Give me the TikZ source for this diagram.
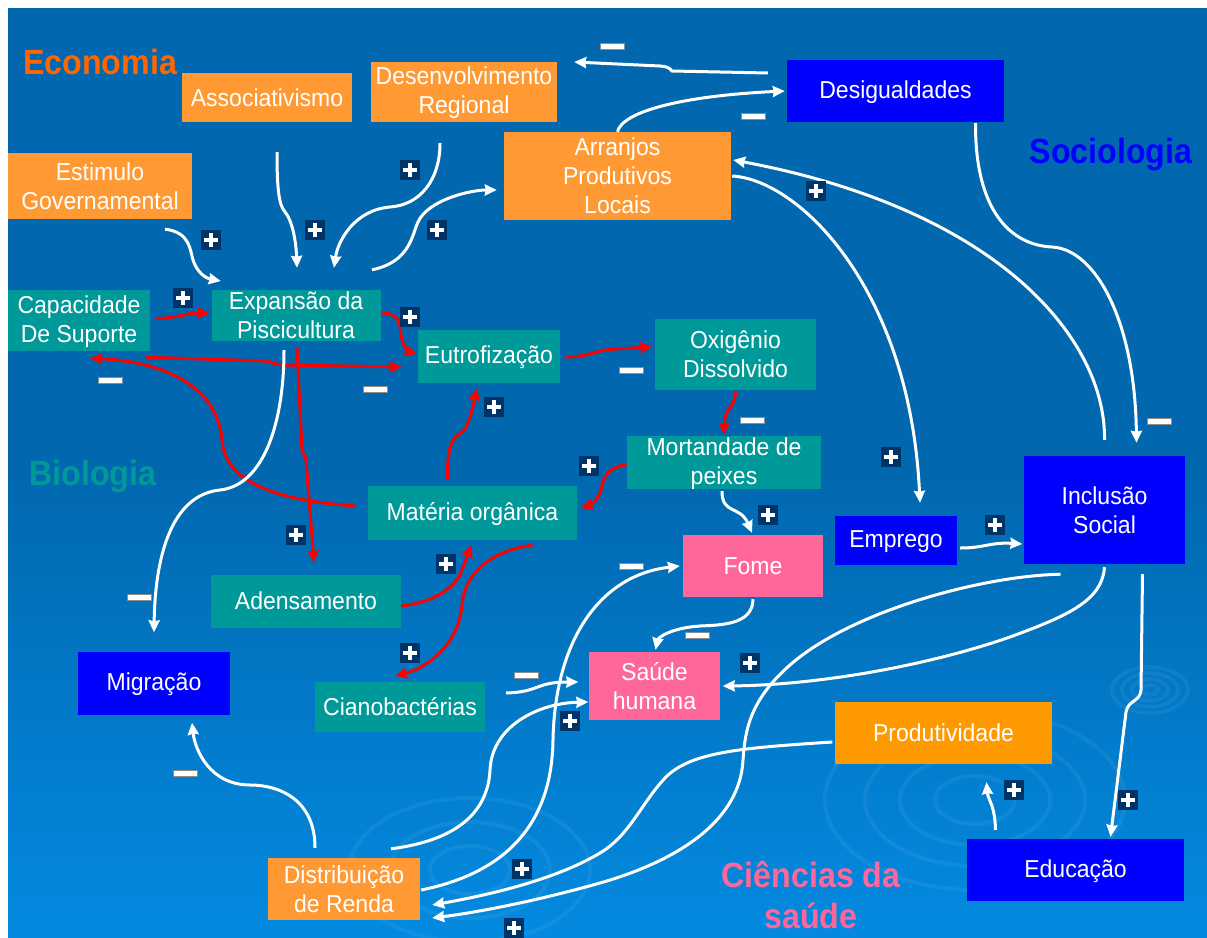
\documentclass[tikz,border=0pt]{standalone}
\usepackage{fontspec}
\setmainfont{Liberation Sans}
\newfontfamily\boxfont{Liberation Sans}[FakeStretch=0.94]
\newfontfamily\titlefont{Liberation Sans}[FakeStretch=0.92]
\usetikzlibrary{arrows.meta,calc}
\definecolor{bgtop}{RGB}{1,103,174}
\definecolor{bgbot}{RGB}{3,138,224}
\definecolor{orng}{RGB}{255,153,51}
\definecolor{orngb}{RGB}{255,153,0}
\definecolor{tealbox}{RGB}{0,153,153}
\definecolor{bluebox}{RGB}{0,0,255}
\definecolor{pinkbox}{RGB}{255,102,153}
\definecolor{signnavy}{RGB}{0,51,102}
\definecolor{econ}{RGB}{255,102,0}
% box text: struts above the first and below the last line keep the
% capitals centred in the box
\newcommand\bx[1]{\rule{0pt}{19.8pt}#1\rule[-2.2pt]{0pt}{2.2pt}}

\begin{document}
\begin{tikzpicture}[x=1pt,y=-1pt,
  box/.style={inner sep=0pt, text=white, align=center,
    font=\boxfont\fontsize{24.5}{29}\selectfont},
  obox/.style={box, fill=orng},
  tbox/.style={box, fill=tealbox},
  bbox/.style={box, fill=bluebox},
  pbox/.style={box, fill=pinkbox},
  area/.style={font=\titlefont\bfseries\fontsize{35}{41}\selectfont, anchor=base, align=center},
  wlink/.style={draw=white, line width=3pt,
    -{Stealth[inset=1pt,length=12pt,width=11pt]}},
  rlink/.style={draw=red, line width=3pt,
    -{Stealth[inset=1pt,length=12pt,width=11pt]}},
  ripple/.style={draw=white, opacity=0.06, line width=4pt},
  plussign/.pic={
    \fill[signnavy] (-10,-10) rectangle (10,10);
    \fill[white] (-7,-1.7) rectangle (7,1.7);
    \fill[white] (-1.7,-7) rectangle (1.7,7);
  },
  minussign/.pic={
    \fill[white, draw=black!45, line width=0.8pt] (-12,-3) rectangle (12,3);
  }
]
\useasboundingbox (0,0) rectangle (1207,937);

% page background
\fill[white] (0,0) rectangle (1207,937);
\fill[bgtop] (8,8) rectangle (1207,460);
\shade[top color=bgtop, bottom color=bgbot] (8,459) rectangle (1207,937);

% water ripples
\foreach \r in {8,18,28,38}
  \draw[ripple] (1150,690) ellipse ({\r} and {0.6*\r});
\foreach \r in {40,75,110,150}
  \draw[ripple] (975,800) ellipse ({\r} and {0.6*\r});
\foreach \r in {40,80,120}
  \draw[ripple] (470,870) ellipse ({\r} and {0.6*\r});

% area titles
\node[area, text=econ] at (100,74) {Economia};
\node[area, text=bluebox] at (1111,163) {Sociologia};
\node[area, text=tealbox] at (93,485) {Biologia};
\node[area, text=pinkbox] at (811,928) {Ciências da\\saúde};

% economy
\node[obox, minimum width=170pt, minimum height=49pt] (assoc) at (267,97.5) {\bx{Associativismo}};
\node[obox, minimum width=186pt, minimum height=60pt] (desreg) at (464,92) {\bx{Desenvolvimento\\Regional}};
\node[obox, minimum width=184pt, minimum height=66pt] (estim) at (100,186) {\bx{Estimulo\\Governamental}};
\node[obox, minimum width=227pt, minimum height=88pt] (arr) at (617.5,176) {\bx{Arranjos\\Produtivos\\Locais}};
\node[obox, minimum width=152pt, minimum height=62pt] (dist) at (344,889) {\bx{Distribuição\\de Renda}};
\node[box, fill=orngb, minimum width=217pt, minimum height=62pt] (prod) at (943.5,733) {\bx{Produtividade}};

% biology
\node[tbox, minimum width=142pt, minimum height=61pt] (cap) at (79,320.5) {\bx{Capacidade\\De Suporte}};
\node[tbox, minimum width=169pt, minimum height=51pt] (exp) at (296,315) {\bx{Expansão da\\Piscicultura}};
\node[tbox, minimum width=142pt, minimum height=53pt] (eut) at (489,356) {\bx{Eutrofização}};
\node[tbox, minimum width=161pt, minimum height=71pt] (oxy) at (735.5,354) {\bx{Oxigênio\\Dissolvido}};
\node[tbox, minimum width=194pt, minimum height=53pt] (mort) at (724,462.5) {\bx{Mortandade de\\peixes}};
\node[tbox, minimum width=209pt, minimum height=54pt] (mat) at (472.5,513) {\bx{Matéria orgânica}};
\node[tbox, minimum width=190pt, minimum height=53pt] (aden) at (306,601) {\bx{Adensamento}};
\node[tbox, minimum width=170pt, minimum height=50pt] (cian) at (400,707) {\bx{Cianobactérias}};

% sociology
\node[bbox, minimum width=217pt, minimum height=62pt] (desig) at (895.5,91) {\bx{Desigualdades}};
\node[bbox, minimum width=161pt, minimum height=108pt] (incl) at (1104.5,510) {\bx{Inclusão\\Social}};
\node[bbox, minimum width=122pt, minimum height=49pt] (emp) at (896,540) {\bx{Emprego}};
\node[bbox, minimum width=152pt, minimum height=63pt] (mig) at (154,683.5) {\bx{Migração}};
\node[bbox, minimum width=217pt, minimum height=62pt] (educ) at (1075.5,870) {\bx{Educação}};

% health
\node[pbox, minimum width=140pt, minimum height=62pt] (fome) at (753,566) {\bx{Fome}};
\node[pbox, minimum width=131pt, minimum height=68pt] (saude) at (654.5,686) {\bx{Saúde\\humana}};

% biological links
\draw[rlink] ($(cap.east)+(5,-2)$) .. controls (180,318) and (185,313) .. ($(exp.west)+(-1.5,-2)$);
\draw[rlink] ($(exp.east)+(1.5,-2)$) .. controls (400,313) and (400,325) .. (401,335)
  .. controls (403,348) and (410,352) .. ($(eut.west)+(-1,-2)$);
\draw[rlink] ($(cap.south)+(67,6)$) -- (265,361) .. controls (272,362) and (275,365) .. (285,365)
  -- ($(eut.west)+(-16,11)$);
\draw[rlink] ($(mat.west)+(-12.5,-7)$) .. controls (270,500) and (225,480) .. (222,440)
  .. controls (218,390) and (170,362) .. ($(cap.south)+(11,7)$);
\draw[rlink] ($(exp.south)+(1,7.5)$) -- (302,450) .. controls (303,455) and (306,455) .. (306,460)
  -- ($(aden.north)+(8,-11.5)$);
\draw[rlink] ($(eut.east)+(6,1)$) .. controls (590,357) and (595,350) .. (615,349)
  -- ($(oxy.west)+(-2.5,-7)$);
\draw[rlink] ($(oxy.south)+(0,1.5)$) .. controls (735,410) and (725,405) .. ($(mort.north)+(0,-0.5)$);
\draw[rlink] ($(mort.west)+(0,2)$) .. controls (605,468) and (603,480) .. (601,490)
  .. controls (598,500) and (590,505) .. ($(mat.east)+(3.5,-5)$);
\draw[rlink] ($(mat.north)+(-25,-7)$) .. controls (447,455) and (450,440) .. (458,435)
  .. controls (467,430) and (470,420) .. ($(eut.south)+(-12,5.5)$);
\draw[rlink] ($(aden.east)+(0,5)$) .. controls (430,603) and (455,590) .. (462,570)
  -- ($(mat.south)+(-1,5)$);
\draw[rlink] ($(mat.south)+(60,5)$) .. controls (495,550) and (465,570) .. (462,605)
  .. controls (458,650) and (420,670) .. ($(cian.north)+(-5,-6)$);

% economic and social links
\draw[wlink] ($(desig.west)+(-19,-18)$) -- (672,71) .. controls (668,67) .. (660,66)
  -- ($(desreg.east)+(17,-30)$);
\draw[wlink] (arr.north) .. controls (622,112) and (680,96) .. ($(desig.west)+(-2,0)$);
\draw[wlink] ($(desig.south)+(80,1)$) .. controls (975,210) and (1010,245) .. (1052,247)
  .. controls (1095,249) and (1135,320) .. ($(incl.north)+(32,-13)$);
\draw[wlink] ($(incl.north)+(0,-16)$) .. controls (1106,340) and (1000,210) .. ($(arr.east)+(2,-16)$);
\draw[wlink] ($(arr.east)+(1,0)$) .. controls (800,180) and (910,290) .. ($(emp.north)+(24,-12.5)$);
\draw[wlink] ($(emp.east)+(3,8)$) .. controls (985,548) and (990,542) .. ($(incl.west)+(-1.5,34)$);
\draw[wlink] ($(incl.south)+(0,3)$) .. controls (1102,600) and (1070,615) .. (1010,637)
  .. controls (930,665) and (820,685) .. ($(saude.east)+(2.5,0)$);
\draw[wlink] ($(incl.south)+(-44,10)$) .. controls (980,576) and (850,612) .. (790,665)
  .. controls (750,700) and (745,730) .. (743,760)
  .. controls (740,820) and (680,860) .. (600,883)
  .. controls (540,900) and (480,912) .. ($(dist.east)+(12,29)$);
\draw[wlink] ($(prod.west)+(-2.5,9)$) .. controls (740,748) and (690,752) .. (665,778)
  .. controls (640,805) and (630,835) .. (600,853)
  .. controls (560,877) and (500,893) .. ($(dist.east)+(12,16)$);
\draw[wlink] ($(incl.south)+(38,10)$) -- (1141,690) .. controls (1140,702) and (1128,700) .. (1126,712)
  -- ($(educ.north)+(35,-2)$);
\draw[wlink] ($(educ.north)+(-80,-9)$) .. controls (995,805) and (988,800) .. ($(prod.south)+(43,18)$);
\draw[wlink] ($(fome.south)+(0,2)$) .. controls (753,625) and (720,625) .. (700,626)
  .. controls (670,628) and (658,638) .. ($(saude.north)+(1,-2)$);
\draw[wlink] ($(mort.south)+(-2,1.5)$) .. controls (722,515) and (740,505) .. ($(fome.north)+(-1,-2)$);
\draw[wlink] ($(dist.north)+(-29,-10)$) .. controls (315,800) and (280,785) .. (250,785)
  .. controls (210,785) and (195,750) .. ($(mig.south)+(38,7.5)$);
\draw[wlink] ($(exp.south)+(-12,9.5)$) .. controls (284,420) and (265,485) .. (220,490)
  .. controls (170,495) and (155,560) .. ($(mig.north)+(0,-19.5)$);
\draw[wlink] ($(estim.south)+(65,10)$) .. controls (190,232) and (190,250) .. (193,260)
  .. controls (197,272) and (205,278) .. ($(exp.west)+(9.5,-34)$);
\draw[wlink] ($(assoc.south)+(10,30)$) .. controls (277,190) and (279,205) .. (285,212)
  .. controls (292,220) and (296,240) .. ($(exp.north)+(1,-21.5)$);
\draw[wlink] ($(desreg.south)+(-24,21)$) .. controls (440,180) and (420,205) .. (390,207)
  .. controls (355,210) and (338,240) .. ($(exp.north)+(38,-21.5)$);
\draw[wlink] ($(exp.north)+(76,-19.5)$) .. controls (410,262) and (412,235) .. (418,222)
  .. controls (428,200) and (470,190) .. ($(arr.west)+(-7,14)$);
\draw[wlink] ($(cian.east)+(21,-14)$) .. controls (540,692) and (535,682) .. ($(saude.west)+(-10.5,-4)$);
\draw[wlink] ($(dist.north)+(47,-9)$) .. controls (460,840) and (488,810) .. (490,770)
  .. controls (492,725) and (540,703) .. ($(saude.west)+(-0.5,16)$);
\draw[wlink] ($(dist.east)+(1,1)$) .. controls (520,870) and (552,810) .. (553,740)
  .. controls (555,640) and (600,575) .. ($(fome.west)+(-3,0)$);

% polarity signs
\foreach \p in {(410,170),(315,230),(437,230),(211,240),(183,298),(410,317),
  (816,191),(494,407),(589,466),(296,535),(768,515),(891,457),(995,525),
  (446,564),(410,653),(750,663),(570,721),(1014,790),(1128,800),(522,869),(514,928)}
  \pic at \p {plussign};
\foreach \p in {(612,46),(753,116),(110,380),(375,389),(631,370),(752,420),
  (1159,421),(139,597),(631,566),(697,635),(526,675),(185,773)}
  \pic at \p {minussign};
\end{tikzpicture}
\end{document}
